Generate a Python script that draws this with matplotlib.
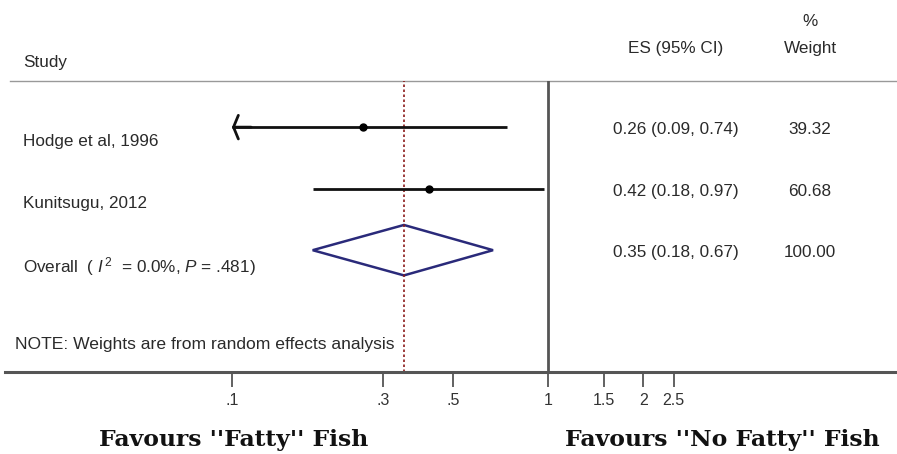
import matplotlib
matplotlib.use("Agg")
import matplotlib.pyplot as plt
import matplotlib.transforms as mtransforms
import numpy as np

plt.rcParams['font.family'] = ['Liberation Sans', 'DejaVu Sans']
plt.rcParams['mathtext.fontset'] = 'custom'
plt.rcParams['mathtext.rm'] = 'Liberation Sans'
plt.rcParams['mathtext.it'] = 'Liberation Sans:italic'

# ---- data ----
studies = ["Hodge et al, 1996", "Kunitsugu, 2012"]
es = [0.26, 0.42]
ci_low = [0.09, 0.18]
ci_high = [0.74, 0.97]
weights = ["39.32", "60.68"]
overall_es = 0.35
overall_low = 0.18
overall_high = 0.67
overall_label = r"Overall  ( $\mathit{I}^{\,2}$  = 0.0%, $\mathit{P}$ = .481)"
overall_weight = "100.00"
tick_vals = [0.1, 0.3, 0.5, 1, 1.5, 2, 2.5]
tick_labels = [".1", ".3", ".5", "1", "1.5", "2", "2.5"]
note = "NOTE: Weights are from random effects analysis"
favour_left = "Favours ''Fatty'' Fish"
favour_right = "Favours ''No Fatty'' Fish"

W, H = 897, 454
fig = plt.figure(figsize=(W / 100, H / 100), dpi=100)
fig.patch.set_facecolor('white')

# axes: x from px 5 to 897, y from px 81 (top) to 372 (bottom)
ax = fig.add_axes([5 / W, (H - 372) / H, 892 / W, (372 - 81) / H])
ax.set_xscale('log')
ppd = 316.0  # pixels per decade
x_one = 548.0
lo = 10 ** ((5 - x_one) / ppd)
hi = 10 ** ((897 - x_one) / ppd)
ax.set_xlim(lo, hi)
ax.set_ylim(3.98, -0.75)
ax.set_facecolor('none')

for s in ['top', 'left', 'right']:
    ax.spines[s].set_visible(False)
ax.spines['bottom'].set_color('#555555')
ax.spines['bottom'].set_linewidth(2.2)
ax.set_yticks([])
ax.set_xticks(tick_vals)
ax.set_xticklabels(tick_labels)
ax.xaxis.set_minor_locator(matplotlib.ticker.NullLocator())
ax.tick_params(axis='x', direction='out', length=10.5, width=1.3, color='#555555',
               labelsize=11.5, labelcolor='#333333', pad=4.5)

# top rule
ax.axhline(-0.75, xmin=5 / 892, xmax=1, color='#999999', lw=1.0, clip_on=False)

# reference lines
ax.axvline(1, color='#555555', lw=2.0)
ax.axvline(overall_es, color='#8b1a1a', lw=1.2, ls=(0, (1.5, 1.5)))

clip_low = tick_vals[0]
for i in range(len(studies)):
    left = max(ci_low[i], clip_low)
    ax.plot([left, ci_high[i]], [i, i], color='#111111', lw=2.0, solid_capstyle='butt')
    ax.plot(es[i], i, 'o', color='#000000', ms=5)
    if ci_low[i] < clip_low:
        ax.annotate('', xy=(clip_low, i), xytext=(clip_low * 1.15, i),
                    arrowprops=dict(arrowstyle='->,head_length=0.35,head_width=0.85',
                                    color='#111111', lw=2.0, shrinkA=0, shrinkB=0))

# overall diamond
yd = 2.0
dh = 0.41
ax.fill([overall_low, overall_es, overall_high, overall_es, overall_low],
        [yd, yd - dh, yd, yd + dh, yd], facecolor='none', edgecolor='#2a2a7a', lw=1.8)

# text columns
tf = mtransforms.blended_transform_factory(fig.transFigure, ax.transData)
txt_col = '#2a2a2a'
fs = 12.3
fig.text(23 / W, (H - 62) / H, "Study", fontsize=fs, color=txt_col, va='center', ha='left')
fig.text(676 / W, (H - 49) / H, "ES (95% CI)", fontsize=fs, color=txt_col, va='center', ha='center')
fig.text(810 / W, (H - 22) / H, "%", fontsize=fs, color=txt_col, va='center', ha='center')
fig.text(810 / W, (H - 49) / H, "Weight", fontsize=fs, color=txt_col, va='center', ha='center')

for i in range(len(studies)):
    ax.text(23 / W, i + 0.24, studies[i], transform=tf, fontsize=fs, color=txt_col,
            va='center', ha='left')
    ax.text(676 / W, i + 0.04, f"{es[i]:.2f} ({ci_low[i]:.2f}, {ci_high[i]:.2f})", transform=tf,
            fontsize=fs, color=txt_col, va='center', ha='center')
    ax.text(810 / W, i + 0.04, weights[i], transform=tf, fontsize=fs, color=txt_col,
            va='center', ha='center')

ax.text(23 / W, 2.26, overall_label, transform=tf, fontsize=fs, color=txt_col,
        va='center', ha='left')
ax.text(676 / W, 2.04, f"{overall_es:.2f} ({overall_low:.2f}, {overall_high:.2f})", transform=tf,
        fontsize=fs, color=txt_col, va='center', ha='center')
ax.text(810 / W, 2.04, overall_weight, transform=tf, fontsize=fs, color=txt_col,
        va='center', ha='center')

ax.text(15 / W, 3.53, note, transform=tf, fontsize=12.6, color=txt_col, va='center', ha='left')

# favours labels
fig.text(234 / W, (H - 446) / H, favour_left, fontsize=16.9, family='DejaVu Serif',
         weight='bold', color='#111111', va='baseline', ha='center')
fig.text(722 / W, (H - 446) / H, favour_right, fontsize=16.9, family='DejaVu Serif',
         weight='bold', color='#111111', va='baseline', ha='center')

fig.savefig("out.png", dpi=100)
